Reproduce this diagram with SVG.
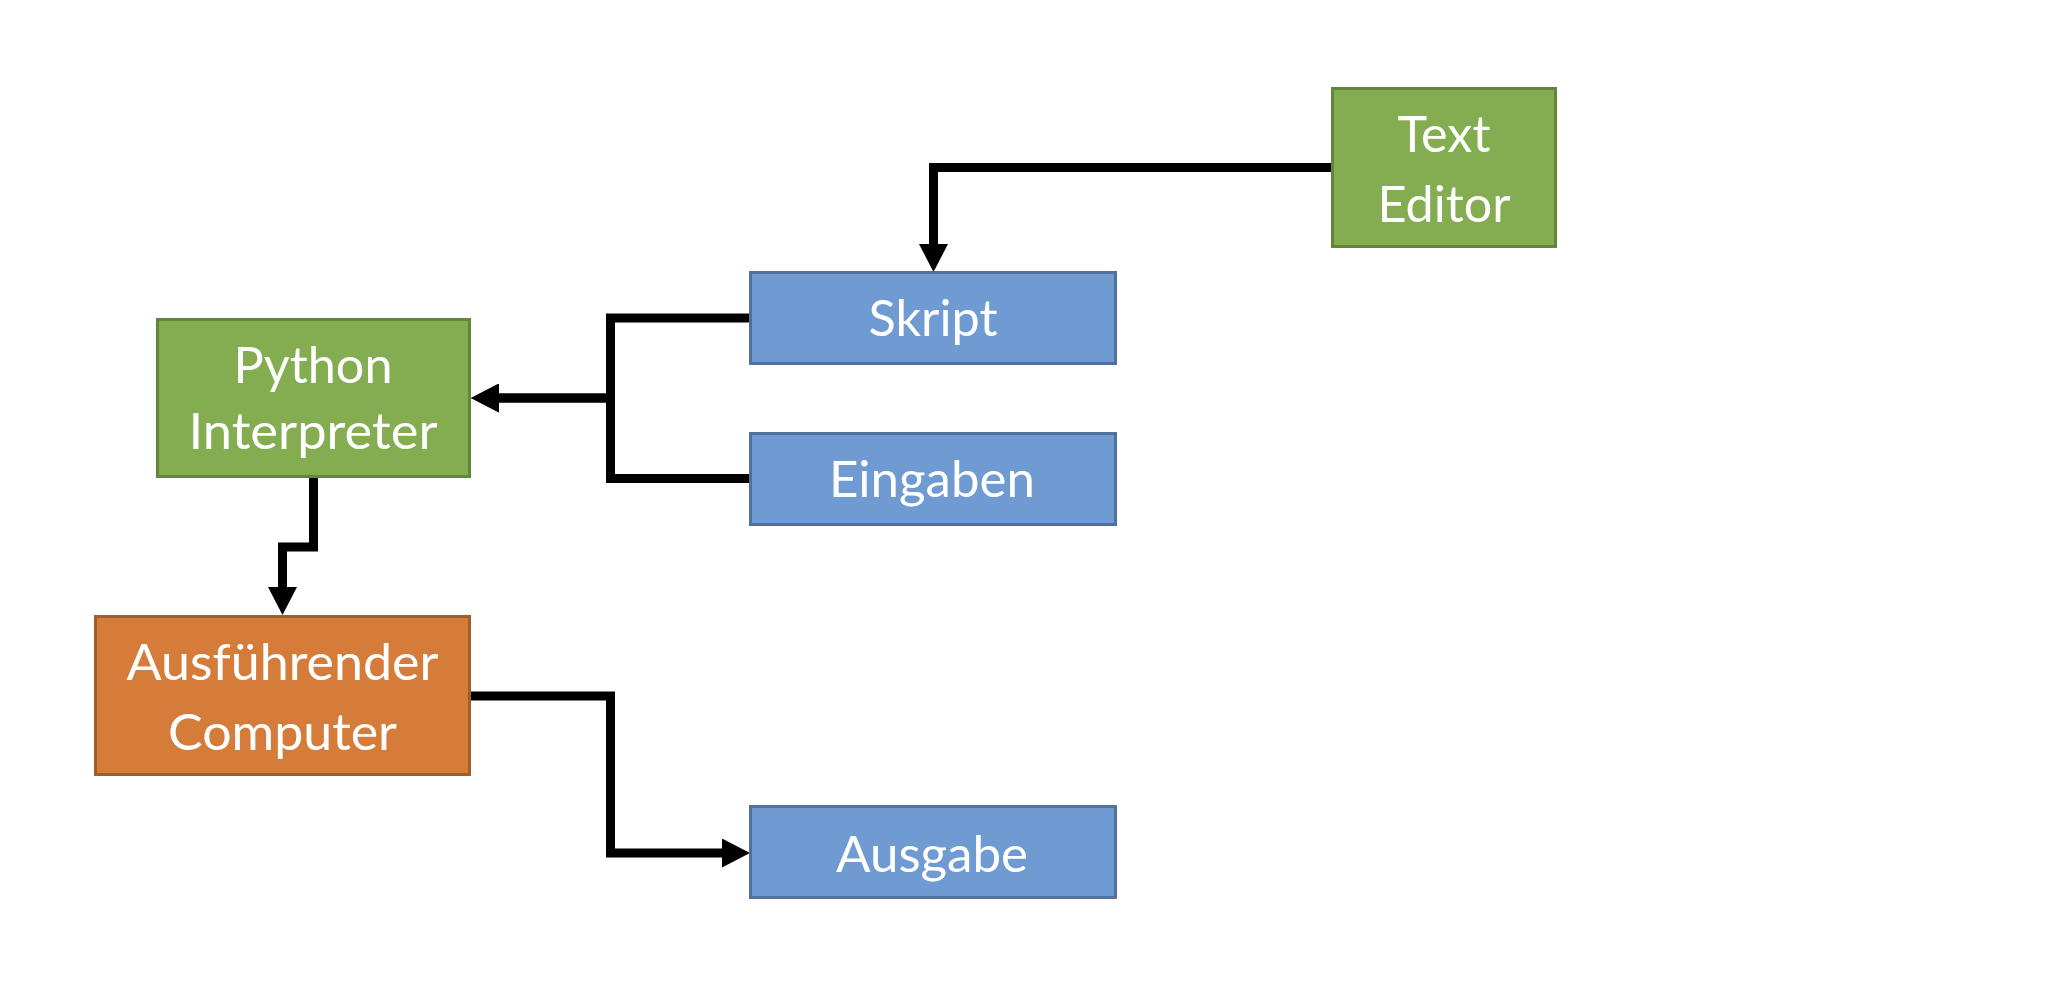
<svg xmlns="http://www.w3.org/2000/svg" width="2066" height="1003" viewBox="0 0 2066 1003">
<style>
.box{stroke-width:3}
.green{fill:#84AC50;stroke:#62863A}
.blue{fill:#6F9AD2;stroke:#50709E}
.orange{fill:#D57C3B;stroke:#A35C2A}
.lbl{font-family:Lato,"Liberation Sans",sans-serif;font-size:50px;fill:#FFFFFF;text-anchor:middle}
.conn{fill:none;stroke:#000000;stroke-width:9;stroke-linejoin:miter;marker-end:url(#arrow)}
</style>
<defs>
<marker id="arrow" markerUnits="userSpaceOnUse" viewBox="0 0 28 29" markerWidth="28" markerHeight="29" refX="0" refY="14.5" orient="auto">
<path d="M0,0 L28,14.5 L0,29 Z" fill="#000000"/>
</marker>
</defs>
<rect width="2066" height="1003" fill="#FFFFFF"/>
<g id="connectors">
<path class="conn" d="M1331,167.5 H933.5 V244"/>
<path class="conn" d="M750,318 H610.5 V398 H499"/>
<path class="conn" d="M750,478.5 H610.5 V398 H499"/>
<path class="conn" d="M313.5,478 V547 H282.5 V587"/>
<path class="conn" d="M471,696 H610.5 V853 H722"/>
</g>
<g id="text-editor">
<rect class="box green" x="1332.5" y="88.5" width="223" height="158"/>
<text class="lbl" x="1444" y="152" textLength="93" lengthAdjust="spacingAndGlyphs">Text</text>
<text class="lbl" x="1444" y="222" textLength="133" lengthAdjust="spacingAndGlyphs">Editor</text>
</g>
<g id="skript">
<rect class="box blue" x="750.5" y="272.5" width="365" height="91"/>
<text class="lbl" x="933" y="336" textLength="129" lengthAdjust="spacingAndGlyphs">Skript</text>
</g>
<g id="eingaben">
<rect class="box blue" x="750.5" y="433.5" width="365" height="91"/>
<text class="lbl" x="932" y="497" textLength="206" lengthAdjust="spacingAndGlyphs">Eingaben</text>
</g>
<g id="python-interpreter">
<rect class="box green" x="157.5" y="319.5" width="312" height="157"/>
<text class="lbl" x="313" y="383" textLength="159" lengthAdjust="spacingAndGlyphs">Python</text>
<text class="lbl" x="313" y="449" textLength="249" lengthAdjust="spacingAndGlyphs">Interpreter</text>
</g>
<g id="ausfuehrender-computer">
<rect class="box orange" x="95.5" y="616.5" width="374" height="158"/>
<text class="lbl" x="282.5" y="680" textLength="312" lengthAdjust="spacingAndGlyphs">Ausführender</text>
<text class="lbl" x="282.5" y="750" textLength="229" lengthAdjust="spacingAndGlyphs">Computer</text>
</g>
<g id="ausgabe">
<rect class="box blue" x="750.5" y="806.5" width="365" height="91"/>
<text class="lbl" x="932" y="872" textLength="192" lengthAdjust="spacingAndGlyphs">Ausgabe</text>
</g>
</svg>
